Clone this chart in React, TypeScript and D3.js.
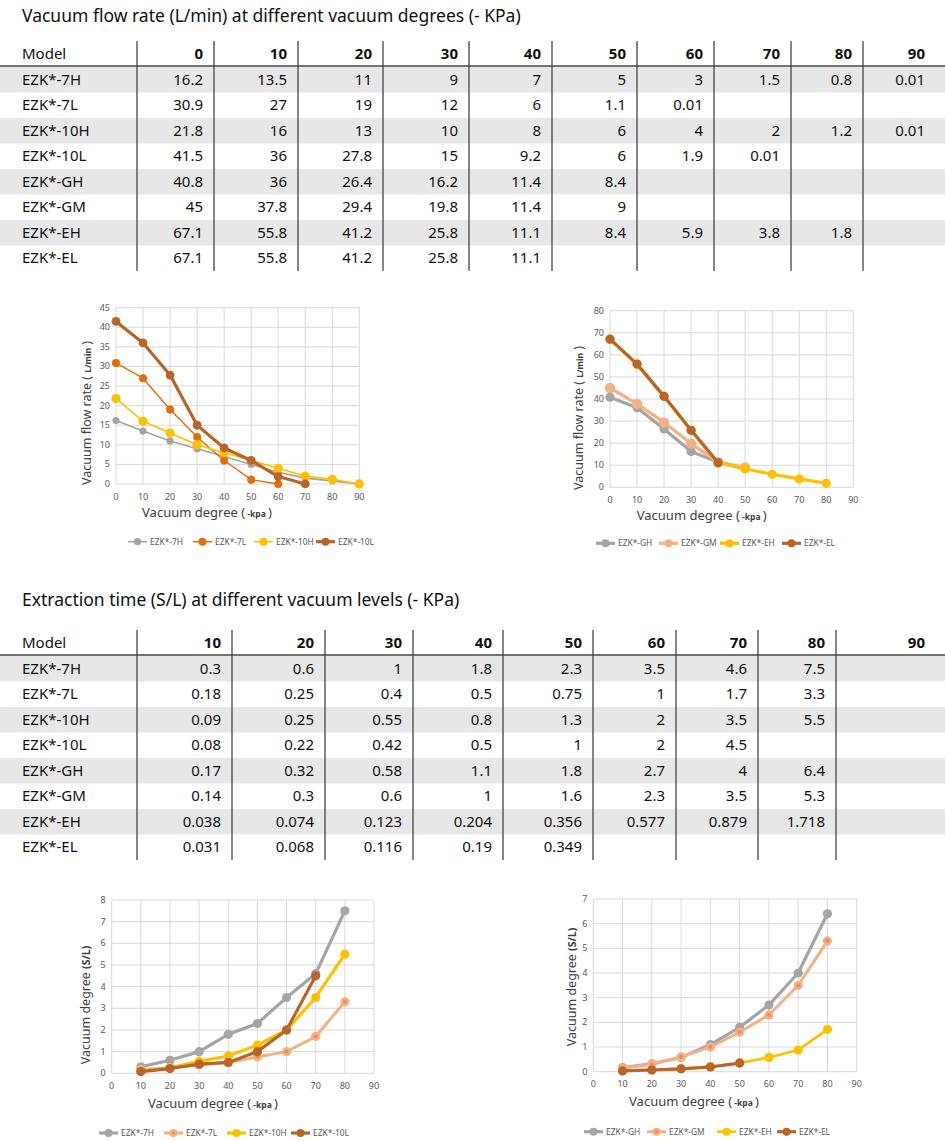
import * as d3 from 'd3';

type V = number | null;

// ---- table / chart data ----
const models = ['EZK*-7H', 'EZK*-7L', 'EZK*-10H', 'EZK*-10L', 'EZK*-GH', 'EZK*-GM', 'EZK*-EH', 'EZK*-EL'];
const flowDegrees = [0, 10, 20, 30, 40, 50, 60, 70, 80, 90];
const timeDegrees = [10, 20, 30, 40, 50, 60, 70, 80, 90];

const flow7H: V[] = [16.2, 13.5, 11, 9, 7, 5, 3, 1.5, 0.8, 0.01];
const flow7L: V[] = [30.9, 27, 19, 12, 6, 1.1, 0.01, null, null, null];
const flow10H: V[] = [21.8, 16, 13, 10, 8, 6, 4, 2, 1.2, 0.01];
const flow10L: V[] = [41.5, 36, 27.8, 15, 9.2, 6, 1.9, 0.01, null, null];
const flowGH: V[] = [40.8, 36, 26.4, 16.2, 11.4, 8.4, null, null, null, null];
const flowGM: V[] = [45, 37.8, 29.4, 19.8, 11.4, 9, null, null, null, null];
const flowEH: V[] = [67.1, 55.8, 41.2, 25.8, 11.1, 8.4, 5.9, 3.8, 1.8, null];
const flowEL: V[] = [67.1, 55.8, 41.2, 25.8, 11.1, null, null, null, null, null];

const time7H: V[] = [0.3, 0.6, 1, 1.8, 2.3, 3.5, 4.6, 7.5, null];
const time7L: V[] = [0.18, 0.25, 0.4, 0.5, 0.75, 1, 1.7, 3.3, null];
const time10H: V[] = [0.09, 0.25, 0.55, 0.8, 1.3, 2, 3.5, 5.5, null];
const time10L: V[] = [0.08, 0.22, 0.42, 0.5, 1, 2, 4.5, null, null];
const timeGH: V[] = [0.17, 0.32, 0.58, 1.1, 1.8, 2.7, 4, 6.4, null];
const timeGM: V[] = [0.14, 0.3, 0.6, 1, 1.6, 2.3, 3.5, 5.3, null];
const timeEH: V[] = [0.038, 0.074, 0.123, 0.204, 0.356, 0.577, 0.879, 1.718, null];
const timeEL: V[] = [0.031, 0.068, 0.116, 0.19, 0.349, null, null, null, null];

const flowRows = [flow7H, flow7L, flow10H, flow10L, flowGH, flowGM, flowEH, flowEL];
const timeRows = [time7H, time7L, time10H, time10L, timeGH, timeGM, timeEH, timeEL];

const chartXTicks = [0, 10, 20, 30, 40, 50, 60, 70, 80, 90];
const flowYTicksA = [0, 5, 10, 15, 20, 25, 30, 35, 40, 45];
const flowYTicksB = [0, 10, 20, 30, 40, 50, 60, 70, 80];
const timeYTicksA = [0, 1, 2, 3, 4, 5, 6, 7, 8];
const timeYTicksB = [0, 1, 2, 3, 4, 5, 6, 7];

// ---- styling ----
const FONT = '"Noto Sans", "Open Sans", sans-serif';
const GRAY = '#a5a5a5';
const ORANGE = '#e46c0a';
const SALMON = '#f4b183';
const YELLOW = '#ffc000';
const BROWN = '#b9652a';

interface TableProps {
  titleY: number;
  top: number;
  title: string;
  headers: number[];
  rows: V[][];
  colLines: number[];
  lastRight: number;
}

function DataTable({ titleY, top, title, headers, rows, colLines, lastRight }: TableProps) {
  const headerY = top + 12;
  const lineY = top + 24;
  const rowH = 25.5;
  const y = d3.scaleBand<string>().domain(models).range([lineY + 1, lineY + 1 + rowH * models.length]);
  const rights = [...colLines.slice(1), lastRight];
  const bottom = lineY + 1 + rowH * models.length;
  return (
    <g fontFamily={FONT}>
      <text x={22} y={titleY + 6} fontSize={17.5} fill="#111">{title}</text>
      {models.map((m, i) =>
        i % 2 === 0 ? (
          <rect key={m} x={0} y={y(m)} width={945} height={y.bandwidth()} fill="#e7e7e7" />
        ) : null
      )}
      <line x1={0} x2={945} y1={lineY} y2={lineY} stroke="#444" strokeWidth={1.4} />
      {colLines.map((cx, i) => (
        <line key={i} x1={cx} x2={cx} y1={top - 1} y2={bottom} stroke="#444" strokeWidth={1.3} />
      ))}
      <text x={22} y={headerY + 5} fontSize={15} fill="#111">Model</text>
      {headers.map((h, j) => (
        <text key={h} x={rights[j] - 11} y={headerY + 5} fontSize={15} fontWeight="bold" textAnchor="end" fill="#111">
          {h}
        </text>
      ))}
      {models.map((m, i) => (
        <g key={m}>
          <text x={22} y={(y(m) ?? 0) + rowH / 2 + 5} fontSize={15} fill="#111">{m}</text>
          {rows[i].map((v, j) =>
            v == null ? null : (
              <text key={j} x={rights[j] - 11} y={(y(m) ?? 0) + rowH / 2 + 5} fontSize={15} textAnchor="end" fill="#111">
                {String(v)}
              </text>
            )
          )}
        </g>
      ))}
    </g>
  );
}

interface Series {
  name: string;
  values: V[];
  color: string;
  width: number;
  r: number;
  inner?: string;
}

interface ChartProps {
  x0: number;
  x1: number;
  yTop: number;
  yBot: number;
  xs: number[];
  yTicks: number[];
  series: Series[];
  yTitle: string;
  yUnit: string;
  unitSize: number;
  yTitleX: number;
  yTitleY: number;
  xTitleX: number;
  xTitleY: number;
  legendY: number;
  legendX: number[];
}

function LineChart(p: ChartProps) {
  const x = d3.scaleLinear().domain([0, 90]).range([p.x0, p.x1]);
  const y = d3.scaleLinear().domain([0, d3.max(p.yTicks) as number]).range([p.yBot, p.yTop]);
  const line = d3
    .line<[number, V]>()
    .defined((d) => d[1] != null)
    .x((d) => x(d[0]))
    .y((d) => y(d[1] as number));
  const closing = p.yUnit.startsWith('(') ? '' : ' )';
  return (
    <g fontFamily={FONT}>
      {p.yTicks.map((t) => (
        <line key={'h' + t} x1={p.x0} x2={p.x1} y1={y(t)} y2={y(t)} stroke="#d9d9d9" strokeWidth={1} />
      ))}
      {chartXTicks.map((t) => (
        <line key={'v' + t} x1={x(t)} x2={x(t)} y1={p.yTop} y2={p.yBot} stroke="#d9d9d9" strokeWidth={1} />
      ))}
      {p.yTicks.map((t) => (
        <text key={'yl' + t} x={p.x0 - 6} y={y(t) + 3} fontSize={9} textAnchor="end" fill="#595959">{t}</text>
      ))}
      {chartXTicks.map((t) => (
        <text key={'xl' + t} x={x(t)} y={p.yBot + 15.5} fontSize={9} textAnchor="middle" fill="#595959">{t}</text>
      ))}
      {p.series.map((s) => {
        const pts = p.xs.map((d, i) => [d, s.values[i]] as [number, V]);
        return (
          <g key={s.name}>
            <path d={line(pts) ?? ''} fill="none" stroke={s.color} strokeWidth={s.width} strokeLinejoin="round" />
            {pts
              .filter((d) => d[1] != null)
              .map((d) => (
                <g key={d[0]}>
                  <circle cx={x(d[0])} cy={y(d[1] as number)} r={s.r} fill={s.color} />
                  {s.inner ? <circle cx={x(d[0])} cy={y(d[1] as number)} r={s.r * 0.45} fill={s.inner} /> : null}
                </g>
              ))}
          </g>
        );
      })}
      <text
        transform={`translate(${p.yTitleX},${p.yTitleY}) rotate(-90)`}
        fontSize={12.5}
        textAnchor="middle"
        fill="#404040"
      >
        {p.yTitle}
        <tspan fontSize={p.unitSize} fontWeight="bold">{p.yUnit}</tspan>
        {closing}
      </text>
      <text x={p.xTitleX} y={p.xTitleY + 4.5} fontSize={13} textAnchor="middle" fill="#404040">
        Vacuum degree (<tspan fontSize={8.5} fontWeight="bold"> -kpa </tspan>)
      </text>
      {p.series.map((s, i) => {
        const lx = p.legendX[i];
        return (
          <g key={'lg' + s.name}>
            <line x1={lx} x2={lx + 19} y1={p.legendY} y2={p.legendY} stroke={s.color} strokeWidth={Math.max(s.width, 1.5)} />
            <circle cx={lx + 9.5} cy={p.legendY} r={Math.min(s.r, 4)} fill={s.color} />
            {s.inner ? <circle cx={lx + 9.5} cy={p.legendY} r={1.7} fill={s.inner} /> : null}
            <text x={lx + 22} y={p.legendY + 3} fontSize={8.4} fill="#595959">{s.name}</text>
          </g>
        );
      })}
    </g>
  );
}

export default function App() {
  return (
    <svg width={945} height={1141} style={{ position: 'fixed', top: 0, left: 0 }}>
      <rect width={945} height={1141} fill="#fff" />
      <DataTable
        titleY={16}
        top={42}
        title="Vacuum flow rate (L/min) at different vacuum degrees (- KPa)"
        headers={flowDegrees}
        rows={flowRows}
        colLines={[137, 214, 298, 383, 469, 552, 637, 714, 791, 863]}
        lastRight={936}
      />
      <DataTable
        titleY={600}
        top={631}
        title="Extraction time (S/L) at different vacuum levels (- KPa)"
        headers={timeDegrees}
        rows={timeRows}
        colLines={[137, 232, 325, 413, 503, 593, 676, 758, 836]}
        lastRight={936}
      />
      <LineChart
        x0={116}
        x1={359.3}
        yTop={307.7}
        yBot={484}
        xs={flowDegrees}
        yTicks={flowYTicksA}
        series={[
          { name: 'EZK*-7H', values: flow7H, color: GRAY, width: 1.6, r: 3.6 },
          { name: 'EZK*-7L', values: flow7L, color: ORANGE, width: 1.4, r: 4 },
          { name: 'EZK*-10H', values: flow10H, color: YELLOW, width: 1.6, r: 4.6 },
          { name: 'EZK*-10L', values: flow10L, color: BROWN, width: 3.2, r: 4.4 },
        ]}
        yTitle="Vacuum flow rate ( "
        yUnit="L/min"
        unitSize={8.5}
        yTitleX={91}
        yTitleY={413}
        xTitleX={207}
        xTitleY={512}
        legendY={541.7}
        legendX={[128, 193, 254, 316]}
      />
      <LineChart
        x0={610}
        x1={853.3}
        yTop={310.7}
        yBot={487.3}
        xs={flowDegrees}
        yTicks={flowYTicksB}
        series={[
          { name: 'EZK*-GH', values: flowGH, color: GRAY, width: 3.2, r: 4.6 },
          { name: 'EZK*-GM', values: flowGM, color: SALMON, width: 3.2, r: 5.2 },
          { name: 'EZK*-EH', values: flowEH, color: YELLOW, width: 3.2, r: 4.6 },
          { name: 'EZK*-EL', values: flowEL, color: BROWN, width: 3.2, r: 4.6 },
        ]}
        yTitle="Vacuum flow rate ( "
        yUnit="L/min"
        unitSize={8.5}
        yTitleX={583}
        yTitleY={418}
        xTitleX={701.7}
        xTitleY={515.7}
        legendY={543.3}
        legendX={[596, 659, 720, 782]}
      />
      <LineChart
        x0={111.7}
        x1={374}
        yTop={900}
        yBot={1073.3}
        xs={timeDegrees}
        yTicks={timeYTicksA}
        series={[
          { name: 'EZK*-7H', values: time7H, color: GRAY, width: 3.2, r: 4.6 },
          { name: 'EZK*-7L', values: time7L, color: SALMON, width: 3, r: 4.6, inner: '#ee8d53' },
          { name: 'EZK*-10H', values: time10H, color: YELLOW, width: 3.2, r: 4.6 },
          { name: 'EZK*-10L', values: time10L, color: BROWN, width: 3.2, r: 4.6 },
        ]}
        yTitle="Vacuum degree "
        yUnit="(S/L)"
        unitSize={10.5}
        yTitleX={89.5}
        yTitleY={1005}
        xTitleX={213}
        xTitleY={1103}
        legendY={1133}
        legendX={[99, 164, 227, 291]}
      />
      <LineChart
        x0={593.3}
        x1={856.7}
        yTop={899}
        yBot={1071.7}
        xs={timeDegrees}
        yTicks={timeYTicksB}
        series={[
          { name: 'EZK*-GH', values: timeGH, color: GRAY, width: 3.2, r: 4.6 },
          { name: 'EZK*-GM', values: timeGM, color: SALMON, width: 3, r: 4.6, inner: '#ee8d53' },
          { name: 'EZK*-EH', values: timeEH, color: YELLOW, width: 2.6, r: 4.6 },
          { name: 'EZK*-EL', values: timeEL, color: BROWN, width: 3.2, r: 4.6 },
        ]}
        yTitle="Vacuum degree "
        yUnit="(S/L)"
        unitSize={10.5}
        yTitleX={576}
        yTitleY={987}
        xTitleX={694}
        xTitleY={1101.7}
        legendY={1131.7}
        legendX={[584, 647, 717, 777]}
      />
    </svg>
  );
}
